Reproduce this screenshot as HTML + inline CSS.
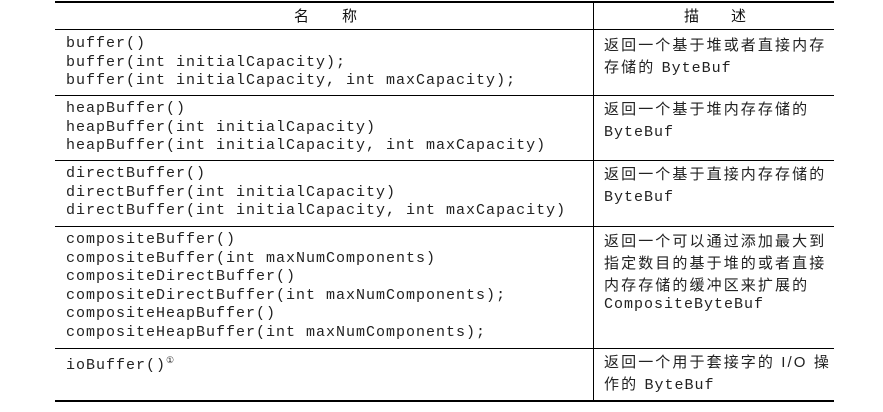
<!DOCTYPE html>
<html><head><meta charset="utf-8"><style>
html,body{margin:0;padding:0;background:#fff;width:883px;height:412px;overflow:hidden;position:relative}
.h{position:absolute;left:55px;width:779px;height:1px;background:#000}
.v{position:absolute;left:593px;width:1px;background:#000;top:1px;height:400px}
.m{position:absolute;left:66px;font-family:"Liberation Mono",monospace;font-size:15px;letter-spacing:1px;line-height:18.6px;color:#222;white-space:pre}
.c{position:absolute;left:604px;font-family:"Liberation Sans","Noto Sans CJK SC",sans-serif;font-size:15px;letter-spacing:2.1px;line-height:22px;color:#222;white-space:pre}
.c span{font-family:"Liberation Mono",monospace;letter-spacing:1px;font-size:15px}
.hd{position:absolute;top:5px;font-family:"Noto Sans CJK SC",sans-serif;font-size:15px;color:#111}
</style></head><body>
<div class="h" style="top:1px;height:2px"></div>
<div class="h" style="top:29px"></div>
<div class="h" style="top:95px"></div>
<div class="h" style="top:160px"></div>
<div class="h" style="top:226px"></div>
<div class="h" style="top:348px"></div>
<div class="h" style="top:400px;height:2px"></div>
<div class="v"></div>
<div class="hd" style="left:294px">名</div>
<div class="hd" style="left:342px">称</div>
<div class="hd" style="left:684px">描</div>
<div class="hd" style="left:731px">述</div>
<div class="m" style="top:35px">buffer()
buffer(int initialCapacity);
buffer(int initialCapacity, int maxCapacity);</div>
<div class="m" style="top:100px">heapBuffer()
heapBuffer(int initialCapacity)
heapBuffer(int initialCapacity, int maxCapacity)</div>
<div class="m" style="top:165px">directBuffer()
directBuffer(int initialCapacity)
directBuffer(int initialCapacity, int maxCapacity)</div>
<div class="m" style="top:231px">compositeBuffer()
compositeBuffer(int maxNumComponents)
compositeDirectBuffer()
compositeDirectBuffer(int maxNumComponents);
compositeHeapBuffer()
compositeHeapBuffer(int maxNumComponents);</div>
<div class="m" style="top:352px">ioBuffer()<sup style="font-size:9px">①</sup></div>
<div class="c" style="top:35px">返回一个基于堆或者直接内存
存储的 <span>ByteBuf</span></div>
<div class="c" style="top:99px">返回一个基于堆内存存储的
<span>ByteBuf</span></div>
<div class="c" style="top:164px">返回一个基于直接内存存储的
<span>ByteBuf</span></div>
<div class="c" style="top:231px">返回一个可以通过添加最大到
指定数目的基于堆的或者直接
内存存储的缓冲区来扩展的
<span style="position:relative;top:-4px">CompositeByteBuf</span></div>
<div class="c" style="top:352px">返回一个用于套接字的 I/O 操
作的 <span>ByteBuf</span></div>
</body></html>
